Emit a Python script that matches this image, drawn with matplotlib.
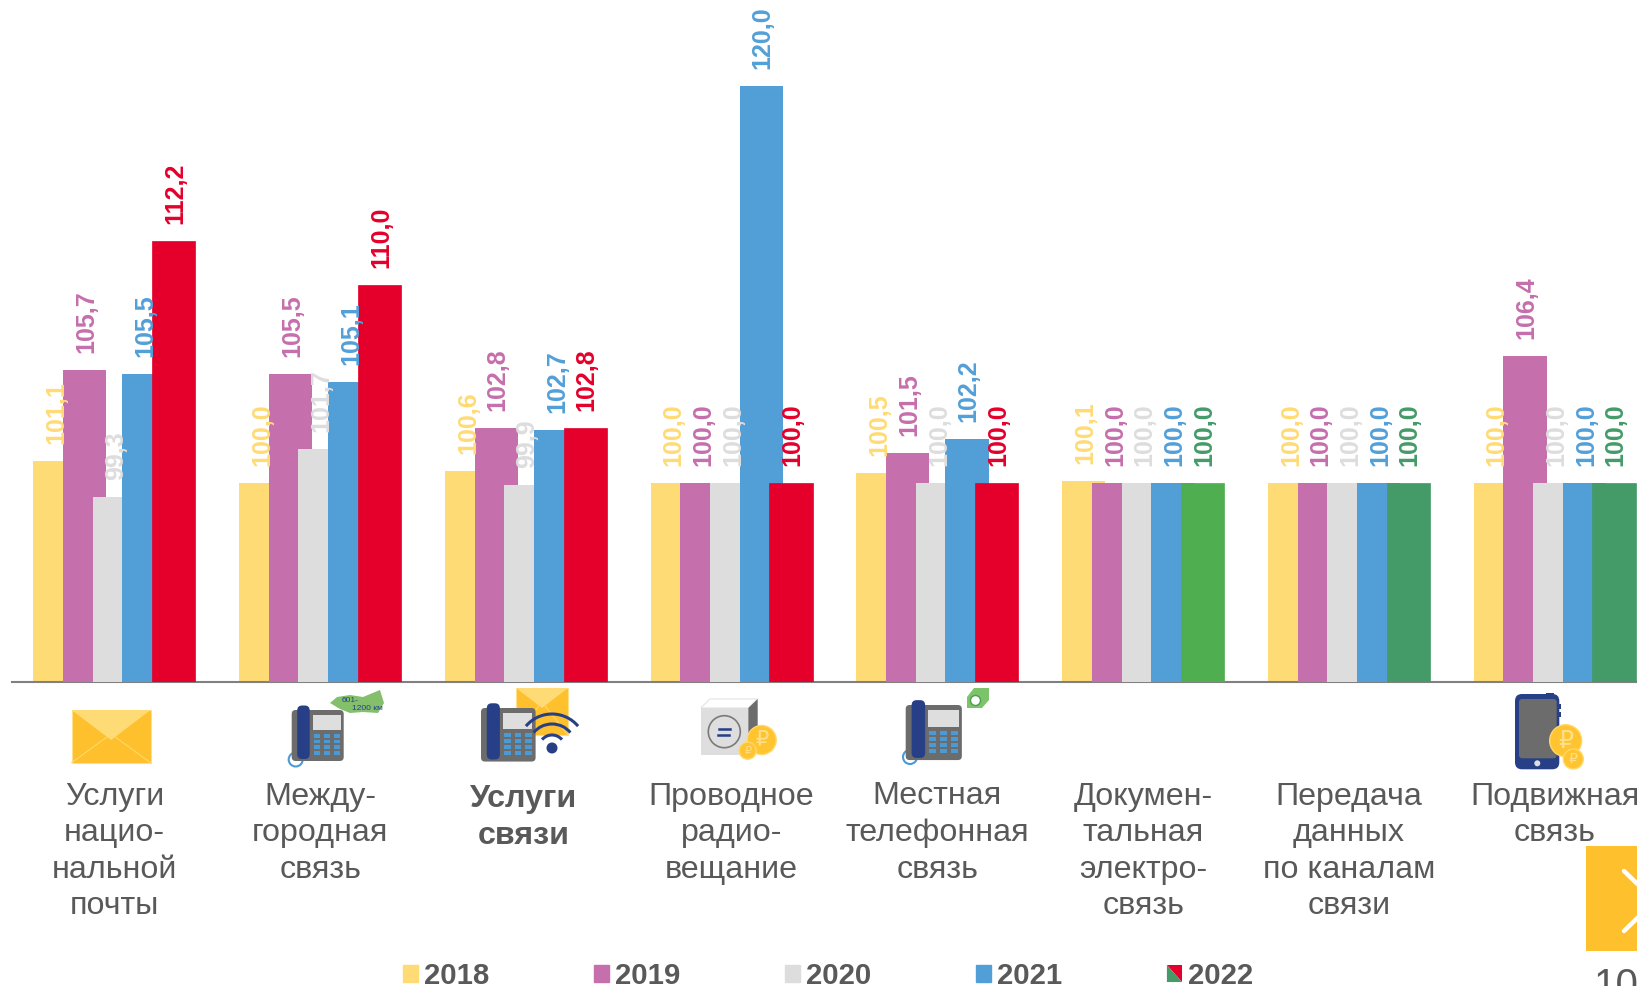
import matplotlib
matplotlib.use("Agg")
import matplotlib.pyplot as plt
from matplotlib.legend_handler import HandlerBase
from matplotlib.patches import Arc, Circle, FancyBboxPatch, Patch, Polygon, Rectangle

plt.rcParams["font.family"] = ["Liberation Sans", "DejaVu Sans"]

W, H = 1637, 986
categories = [
    "Услуги\nнацио-\nнальной\nпочты",
    "Между-\nгородная\nсвязь",
    "Услуги\nсвязи",
    "Проводное\nрадио-\nвещание",
    "Местная\nтелефонная\nсвязь",
    "Докумен-\nтальная\nэлектро-\nсвязь",
    "Передача\nданных\nпо каналам\nсвязи",
    "Подвижная\nсвязь",
]
bold_category = 2
years = ["2018", "2019", "2020", "2021", "2022"]
v2018 = [101.1, 100.0, 100.6, 100.0, 100.5, 100.1, 100.0, 100.0]
v2019 = [105.7, 105.5, 102.8, 100.0, 101.5, 100.0, 100.0, 106.4]
v2020 = [99.3, 101.7, 99.9, 100.0, 100.0, 100.0, 100.0, 100.0]
v2021 = [105.5, 105.1, 102.7, 120.0, 102.2, 100.0, 100.0, 100.0]
v2022 = [112.2, 110.0, 102.8, 100.0, 100.0, 100.0, 100.0, 100.0]
series = [v2018, v2019, v2020, v2021, v2022]

YELLOW, PINK, GRAY, BLUE = "#FFDB75", "#C56FAC", "#DDDDDD", "#529FD8"
RED, GREEN, DKGREEN = "#E4002B", "#4FAF50", "#449B68"
colors_2022 = [RED, RED, RED, RED, RED, GREEN, DKGREEN, DKGREEN]
label_2022 = [RED, RED, RED, RED, RED, DKGREEN, DKGREEN, DKGREEN]
colors = [YELLOW, PINK, GRAY, BLUE, colors_2022]
label_colors = [YELLOW, PINK, GRAY, BLUE, label_2022]
TEXT = "#595959"
NAVY, KEY, DARK, COIN = "#263F86", "#4A9AD6", "#6C6C6C", "#FFC42F"

fig = plt.figure(figsize=(W / 100, H / 100), dpi=100)
AXIS_Y = 681.5
ax = fig.add_axes([11.5 / W, 1 - AXIS_Y / H, 1 - 11.5 / W, AXIS_Y / H])
ax.set_facecolor("none")
ax.set_xlim(-0.5, 7.4)
ax.set_ylim(90, 124.35)
for s in ("top", "left", "right"):
    ax.spines[s].set_visible(False)
ax.spines["bottom"].set_color("#808080")
ax.spines["bottom"].set_linewidth(1.5)
ax.set_yticks([])
ax.set_xticks(range(len(categories)))
ax.set_xticklabels([])
ax.tick_params(length=0)

BAR_W = 0.2105
STEP = 0.1444
for k, (vals, col, lcol) in enumerate(zip(series, colors, label_colors)):
    xs = [i + (k - 2) * STEP for i in range(len(vals))]
    edge = col if k == 4 else "none"
    ax.bar(xs, vals, width=BAR_W, color=col, edgecolor=edge,
           linewidth=0.5 if k == 4 else 0, zorder=2 + k)
    for i, (x, v) in enumerate(zip(xs, vals)):
        c = lcol[i] if isinstance(lcol, list) else lcol
        ax.annotate(f"{v:.1f}".replace(".", ","), xy=(x, v), xytext=(1.5, 17),
                    textcoords="offset pixels", rotation=90, ha="center", va="bottom",
                    color=c, fontsize=18, fontweight="bold", zorder=10,
                    annotation_clip=False)

for i, name in enumerate(categories):
    bold = i == bold_category
    ax.annotate(name, xy=(i - (0.012 if bold else 0), 0), xycoords=("data", "axes fraction"),
                xytext=(0, -(103 if bold else 100)), textcoords="offset pixels",
                ha="center", va="top", multialignment="center", color=TEXT,
                fontsize=23.2, fontweight="bold" if bold else "normal",
                linespacing=1.285, annotation_clip=False)


class SplitSquare:
    pass


class SplitHandler(HandlerBase):
    def create_artists(self, legend, orig, xd, yd, w, h, fs, trans):
        green = Polygon([(-xd, -yd), (-xd, h - yd), (w - xd, -yd)], closed=True,
                        facecolor=DKGREEN, edgecolor="none", transform=trans)
        red = Polygon([(-xd, h - yd), (w - xd, h - yd), (w - xd, -yd)], closed=True,
                      facecolor=RED, edgecolor="none", transform=trans)
        return [green, red]


handles = [Patch(color=YELLOW), Patch(color=PINK), Patch(color=GRAY), Patch(color=BLUE), SplitSquare()]
fig.legend(handles, years, handler_map={SplitSquare: SplitHandler()}, ncol=5, frameon=False,
           loc="lower left", bbox_to_anchor=(403 / W, -4 / H), borderaxespad=0, borderpad=0,
           handlelength=0.51, handleheight=0.51, handletextpad=0.19, columnspacing=3.57,
           prop={"size": 21.2, "weight": "bold"}, labelcolor=TEXT)

# --- decorative overlay in pixel coordinates ---
ov = fig.add_axes([0, 0, 1, 1], zorder=20)
ov.set_xlim(0, W)
ov.set_ylim(H, 0)
ov.axis("off")
ov.patch.set_alpha(0)


def rbox(x0, y0, x1, y1, r, color, z=1):
    ov.add_patch(FancyBboxPatch((x0 + r, y0 + r), x1 - x0 - 2 * r, y1 - y0 - 2 * r,
                                boxstyle=f"round,pad={r}", fc=color, ec="none", zorder=z))


def phone(x0, y0, s=1.0, cord=None):
    if cord:
        ov.add_patch(Circle(cord, 7, fc="white", ec=KEY, lw=1.5, zorder=1))
    rbox(x0, y0, x0 + 52 * s, y0 + 51 * s, 4, DARK, 2)
    rbox(x0 + 5.5 * s, y0 - 4.5 * s, x0 + 18 * s, y0 + 49 * s, 5, NAVY, 3)
    ov.add_patch(Rectangle((x0 + 21 * s, y0 + 5 * s), 28 * s, 15 * s, fc="#DEDEDE", ec="none", zorder=3))
    for col in range(3):
        for row in range(4):
            ov.add_patch(Rectangle((x0 + (22 + 10 * col) * s, y0 + (24 + 5.7 * row) * s), 6.5 * s, 3.6 * s,
                                   fc=KEY, ec="none", zorder=3))


def coin(cx, cy, r, fs):
    ov.add_patch(Circle((cx, cy), r, fc=COIN, ec="#FFD96B", lw=1, zorder=5))
    ov.text(cx, cy, "₽", color="#FFE08A", fontsize=fs, ha="center", va="center", zorder=6,
            family=["DejaVu Sans"])


def envelope(x0, y0, x1, y1, ym, z=1):
    xm = (x0 + x1) / 2
    ov.add_patch(Rectangle((x0, y0), x1 - x0, y1 - y0, fc="#FFC02D", ec="#FFE08A", lw=0.8, zorder=z))
    ov.plot([x0, xm, x1], [y1, ym - 6, y1], color="#FFD96B", lw=0.8, zorder=z)
    ov.add_patch(Polygon([(x0, y0), (x1, y0), (xm, ym)], fc="#FFDB75", ec="none", zorder=z))


envelope(71.6, 710, 150.6, 762.7, 740)

phone(291.7, 710, 1.0, cord=(295.7, 759.5))
russia = [(330, 703), (337, 697), (350, 695), (363, 697), (380, 690), (384, 703),
          (378, 713), (363, 712), (350, 713), (340, 709)]
ov.add_patch(Polygon(russia, fc="#84BF6B", ec="none", zorder=1))
ov.text(342, 700, "601-", fontsize=6, color=NAVY, ha="left", va="center", zorder=2)
ov.text(352, 708, "1200 км", fontsize=6, color=NAVY, ha="left", va="center", zorder=2)

envelope(516, 688, 568, 735, 708, z=1)
phone(481, 708, 1.05)
ov.add_patch(Circle((552, 748), 5.5, fc=NAVY, ec="none", zorder=5))
for r in (13, 24, 34):
    ov.add_patch(Arc((552, 748), 2 * r, 2 * r, theta1=220, theta2=320, ec=NAVY, lw=2.2, zorder=5))

ov.add_patch(Polygon([(700.7, 708), (710, 699), (757.7, 699), (748.3, 708)], fc="white", ec="#E4E4E4", lw=0.8, zorder=1))
ov.add_patch(Polygon([(748.3, 708), (757.7, 699), (757.7, 740), (748.3, 755)], fc=DARK, ec="none", zorder=1))
ov.add_patch(Rectangle((700.7, 708), 47.6, 47, fc="#DEDEDE", ec="none", zorder=2))
ov.add_patch(Circle((724.3, 731.7), 16, fc="none", ec="#7A7A7A", lw=1.2, zorder=3))
ov.plot([719, 730], [728.5, 728.5], color=NAVY, lw=1.8, zorder=3)
ov.plot([718, 729], [735, 735], color=NAVY, lw=1.8, zorder=3)
coin(761.7, 740, 14.5, 15)
coin(747.7, 750.7, 8.5, 8)

phone(905.7, 705, 1.08, cord=(910, 757))
ov.add_patch(Polygon([(967, 697), (974, 688), (989, 688), (989, 700), (982, 708), (967, 708)], fc="#7CC36B", ec="none", zorder=1))
ov.add_patch(Circle((975.5, 700.5), 5, fc="white", ec="#4E9E4E", lw=1, zorder=2))

rbox(1515, 694, 1559.3, 769.3, 7, NAVY, 2)
ov.add_patch(Rectangle((1546, 692.5), 8, 4, fc=NAVY, ec="none", zorder=2))
ov.add_patch(Rectangle((1558, 704), 3, 5, fc=NAVY, ec="none", zorder=2))
ov.add_patch(Rectangle((1558, 712), 3, 5, fc=NAVY, ec="none", zorder=2))
rbox(1519, 699, 1556.7, 758.3, 3, DARK, 3)
ov.add_patch(Circle((1537.3, 763.3), 3, fc="#DEDEDE", ec="none", zorder=3))
coin(1565.7, 740.7, 16, 17)
coin(1573.3, 759, 10, 10)

ov.add_patch(Rectangle((1586, 846), W - 1586, 104.7, fc="#FFC02D", ec="none", zorder=7))
ov.plot([1624, 1655, 1624], [871, 901, 931], color="white", lw=3.2, solid_capstyle="round", zorder=8)
ov.text(1594, 997, "10", fontsize=29, color=TEXT, ha="left", va="baseline", zorder=8, clip_on=True)

fig.savefig("out.png", dpi=100)
